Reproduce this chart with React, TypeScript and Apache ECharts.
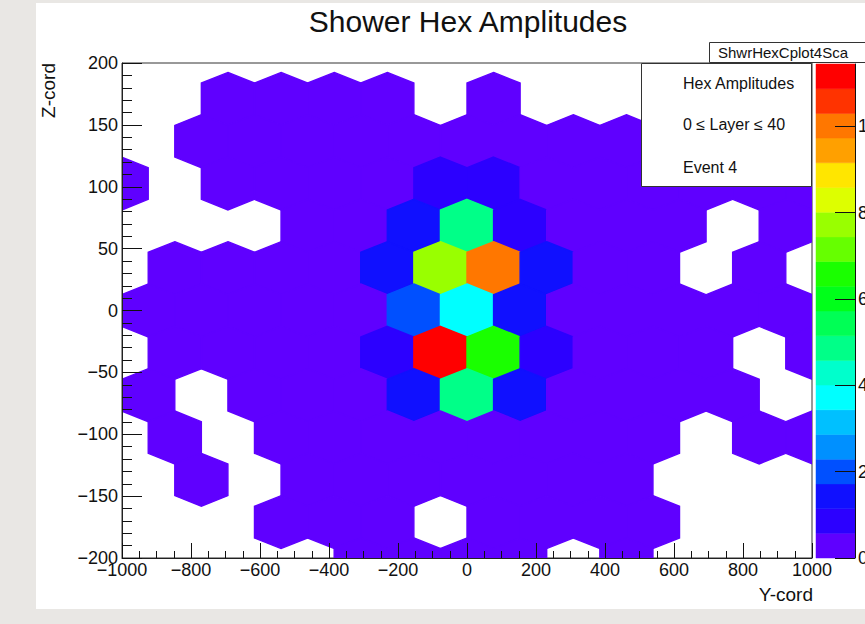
import React, { useEffect, useRef } from 'react';
import * as echarts from 'echarts';

const FONT = '"Liberation Sans", Arial, Helvetica, sans-serif';

const TITLE = 'Shower Hex Amplitudes';
const X_NAME = 'Y-cord';
const Y_NAME = 'Z-cord';
const STATS_NAME = 'ShwrHexCplot4Sca';
const LEGEND_LINES = ['Hex Amplitudes', '0 \u2264 Layer \u2264 40', 'Event 4'];

// hex column centres (Y-cord) for the two alternating kinds of rows
const ODD_COLS = [-1001, -847, -693, -539, -385, -231, -77, 77, 231, 385, 539, 693, 847, 1001];
const EVEN_COLS = [-924, -770, -616, -462, -308, -154, 0, 154, 308, 462, 616, 770, 924];

// hex row centres (Z-cord), top to bottom, and whether they use ODD_COLS
const ROW_Z = [171, 136.8, 102.6, 68.4, 34.2, 0, -34.2, -68.4, -102.6, -136.8, -171, -205.2];
const ROW_ODD = [true, false, true, false, true, false, true, false, true, false, true, false];

// amplitudes per row (0 = empty bin, not drawn)
const AMP_ROWS = [
  [0, 0, 0.3, 0.3, 0.3, 0.3, 0, 0.3, 0, 0, 0, 0.3, 0.3, 0],
  [0, 0.3, 0.3, 0.3, 0.3, 0.3, 0.3, 0.3, 0.3, 0.3, 0.3, 0.3, 0],
  [0.3, 0, 0.3, 0.3, 0.3, 0.3, 0.86, 0.86, 0.3, 0.3, 0.3, 0.3, 0.3, 0.3],
  [0, 0, 0, 0.3, 0.3, 1.43, 4.86, 0.86, 0.3, 0.3, 0.3, 0, 0.3],
  [0, 0.3, 0.3, 0.3, 0.3, 1.43, 7.72, 10.0, 1.43, 0.3, 0.3, 0, 0.3, 0],
  [0.3, 0.3, 0.3, 0.3, 0.3, 2.0, 3.72, 1.43, 0.3, 0.3, 0.3, 0.3, 0.3],
  [0, 0.3, 0.3, 0.3, 0.3, 0.86, 11.44, 6.5, 0.86, 0.3, 0.3, 0.3, 0, 0.3],
  [0.3, 0, 0.3, 0.3, 0.3, 1.43, 4.86, 1.43, 0.3, 0.3, 0.3, 0.3, 0],
  [0, 0.3, 0, 0.3, 0.3, 0.3, 0.3, 0.3, 0.3, 0.3, 0.3, 0, 0.3, 0.3],
  [0, 0.3, 0, 0.3, 0.3, 0.3, 0.3, 0.3, 0.3, 0.3, 0, 0, 0],
  [0, 0, 0, 0.3, 0.3, 0.3, 0, 0.3, 0.3, 0.3, 0.3, 0, 0, 0],
  [0, 0, 0, 0, 0.3, 0.3, 0.3, 0.3, 0, 0.3, 0, 0, 0],
];

// hex geometry in data units
const HEX_HALF_W = 77;
const HEX_HALF_H = 21.4;
const HEX_HALF_SIDE = 12.8;

// colour scale
const Z_MIN = 0;
const Z_MAX = 11.44;
const PALETTE = [
  '#5f00ff', '#2c00ff', '#1010ff', '#0050ff', '#0090ff',
  '#00c0ff', '#00ffff', '#00ffcc', '#00ff88', '#00ff55',
  '#00ff1a', '#1aff00', '#66ff00', '#99ff00', '#ddff00',
  '#ffe600', '#ffa000', '#ff7700', '#ff3300', '#ff0000',
];

const HEX_DATA: number[][] = [];
ROW_Z.forEach((z, r) => {
  const cols = ROW_ODD[r] ? ODD_COLS : EVEN_COLS;
  AMP_ROWS[r].forEach((a, i) => {
    if (a > 0) HEX_DATA.push([cols[i], z, a]);
  });
});

const LEVEL_DATA = PALETTE.map((_, i) => [
  Z_MIN + ((Z_MAX - Z_MIN) * i) / PALETTE.length,
  Z_MIN + ((Z_MAX - Z_MIN) * (i + 1)) / PALETTE.length,
  i,
]);

function colorOf(v: number) {
  let idx = Math.floor(((v - Z_MIN) / (Z_MAX - Z_MIN)) * PALETTE.length);
  if (idx < 0) idx = 0;
  if (idx > PALETTE.length - 1) idx = PALETTE.length - 1;
  return PALETTE[idx];
}

const fmt = (v: number) => (v < 0 ? '\u2212' + Math.abs(v) : String(v));

function txt(text: string, x: number, y: number, size: number, align: string, extra: any = {}) {
  return {
    type: 'text',
    x,
    y,
    z: 100,
    ...extra,
    style: {
      text,
      fontSize: size,
      fontFamily: FONT,
      fill: '#111',
      align,
      textAlign: align,
      verticalAlign: 'middle',
      textVerticalAlign: 'middle',
    },
  };
}

export default function App() {
  const ref = useRef<HTMLDivElement>(null);

  useEffect(() => {
    if (!ref.current) return;
    const chart = echarts.init(ref.current, undefined, { renderer: 'svg' });
    const tickColor = '#111';
    const option: any = {
      animation: false,
      textStyle: { fontFamily: FONT },
      grid: [
        {
          left: 122, top: 63, width: 690, height: 495, show: true,
          borderColor: '#333', borderWidth: 1, backgroundColor: 'transparent',
          containLabel: false, outerBoundsMode: 'none',
        },
        { left: 816, top: 64, width: 39, height: 494, containLabel: false, outerBoundsMode: 'none' },
      ],
      xAxis: [
        {
          gridIndex: 0, type: 'value', min: -1000, max: 1000, interval: 200, z: 10,
          axisLine: { show: true, onZero: false, lineStyle: { color: '#222' } },
          axisTick: { show: true, inside: true, length: 15, lineStyle: { color: tickColor } },
          minorTick: { show: true, splitNumber: 4, length: 7, lineStyle: { color: tickColor } },
          splitLine: { show: false },
          axisLabel: { margin: 3, fontSize: 18, color: '#111', fontFamily: FONT, formatter: fmt },
        },
        { gridIndex: 1, type: 'value', min: 0, max: 1, show: false, axisLine: { onZero: false } },
      ],
      yAxis: [
        {
          gridIndex: 0, type: 'value', min: -200, max: 200, interval: 50, z: 10,
          axisLine: { show: true, onZero: false, lineStyle: { color: '#222' } },
          axisTick: { show: true, inside: true, length: 20, lineStyle: { color: tickColor } },
          minorTick: { show: true, splitNumber: 5, length: 10, lineStyle: { color: tickColor } },
          splitLine: { show: false },
          axisLabel: { margin: 4, fontSize: 18, color: '#111', fontFamily: FONT, formatter: fmt },
        },
        {
          gridIndex: 1, type: 'value', min: Z_MIN, max: Z_MAX, interval: 2, position: 'right', z: 10,
          axisLine: { show: true, onZero: false, lineStyle: { color: '#111' } },
          axisTick: { show: true, inside: true, length: 20, lineStyle: { color: tickColor } },
          splitLine: { show: false },
          axisLabel: { margin: 3, fontSize: 18, color: '#111', fontFamily: FONT, showMaxLabel: false },
        },
      ],
      series: [
        {
          type: 'custom',
          xAxisIndex: 0,
          yAxisIndex: 0,
          clip: true,
          data: HEX_DATA,
          renderItem: (params: any, api: any) => {
            const y = api.value(0);
            const z = api.value(1);
            const v = api.value(2);
            const pts = [
              [y, z + HEX_HALF_H],
              [y + HEX_HALF_W, z + HEX_HALF_SIDE],
              [y + HEX_HALF_W, z - HEX_HALF_SIDE],
              [y, z - HEX_HALF_H],
              [y - HEX_HALF_W, z - HEX_HALF_SIDE],
              [y - HEX_HALF_W, z + HEX_HALF_SIDE],
            ].map((p) => api.coord(p));
            const c = colorOf(v);
            return { type: 'polygon', shape: { points: pts }, style: { fill: c, stroke: c, lineWidth: 1.4 } };
          },
        },
        {
          type: 'custom',
          xAxisIndex: 1,
          yAxisIndex: 1,
          data: LEVEL_DATA,
          renderItem: (params: any, api: any) => {
            const lo = api.value(0);
            const hi = api.value(1);
            const idx = api.value(2);
            const p1 = api.coord([0, hi]);
            const p2 = api.coord([1, lo]);
            return {
              type: 'rect',
              shape: { x: p1[0], y: p1[1], width: p2[0] - p1[0], height: p2[1] - p1[1] },
              style: { fill: PALETTE[idx], stroke: PALETTE[idx], lineWidth: 0.5 },
            };
          },
        },
      ],
      graphic: [
        txt(TITLE, 468, 21, 30, 'center'),
        txt(X_NAME, 813, 594, 19, 'right'),
        txt(Y_NAME, 48.5, 63, 19, 'right', { rotation: Math.PI / 2 }),
        {
          type: 'rect', z: 100,
          shape: { x: 709.5, y: 42.5, width: 170, height: 20 },
          style: { fill: '#fff', stroke: '#333', lineWidth: 1 },
        },
        txt(STATS_NAME, 718, 52.5, 15, 'left', { z: 101 }),
        {
          type: 'rect', z: 100,
          shape: { x: 641.5, y: 63.5, width: 170, height: 123 },
          style: { fill: '#fff', stroke: '#333', lineWidth: 1 },
        },
        txt(LEGEND_LINES[0], 683, 83, 16, 'left', { z: 101 }),
        txt(LEGEND_LINES[1], 683, 124, 16, 'left', { z: 101 }),
        txt(LEGEND_LINES[2], 683, 167, 16, 'left', { z: 101 }),
      ],
    };
    chart.setOption(option);
    return () => chart.dispose();
  }, []);

  return (
    <div style={{ position: 'absolute', left: 0, top: 0, width: 865, height: 624, background: '#e9e7e4', overflow: 'hidden' }}>
      <div style={{ position: 'absolute', left: 36, top: 3, width: 829, height: 606, background: '#ffffff' }} />
      <div ref={ref} style={{ position: 'absolute', left: 0, top: 0, width: 865, height: 624 }} />
    </div>
  );
}
